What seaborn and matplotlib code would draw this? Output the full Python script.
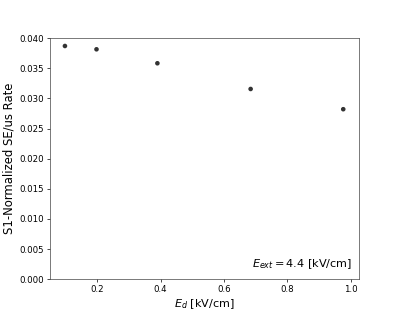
import matplotlib
matplotlib.use("Agg")
import matplotlib.pyplot as plt
import seaborn as sns
import pandas as pd

e_drift = [0.0985, 0.198, 0.39, 0.684, 0.976]
se_rate = [0.03872, 0.03817, 0.03585, 0.03158, 0.02822]

df = pd.DataFrame({"Ed": e_drift, "rate": se_rate})

sns.set_style("ticks")
plt.rcParams['font.family'] = ['DejaVu Sans']
plt.rcParams['text.color'] = 'black'
plt.rcParams['axes.labelcolor'] = 'black'
plt.rcParams['xtick.color'] = 'black'
plt.rcParams['ytick.color'] = 'black'

DPI = 399 / 6.4
fig, ax = plt.subplots(figsize=(6.4, 319 / DPI), dpi=DPI)
fig.subplots_adjust(left=0.125, right=0.9, top=0.88, bottom=0.125)

sns.scatterplot(data=df, x="Ed", y="rate", ax=ax, color="#333333", s=28, edgecolor="none")

ax.set_xlim(0.051, 1.026)
ax.set_ylim(0, 0.040)
ax.set_yticks([0.0, 0.005, 0.010, 0.015, 0.020, 0.025, 0.030, 0.035, 0.040])
ax.set_yticklabels(["0.000", "0.005", "0.010", "0.015", "0.020", "0.025", "0.030", "0.035", "0.040"])
ax.set_xticks([0.2, 0.4, 0.6, 0.8, 1.0])
ax.tick_params(labelsize=10)
ax.set_xlabel(r"$E_d$ [kV/cm]", fontsize=13)
ax.set_ylabel("S1-Normalized SE/us Rate", fontsize=13.5)
ax.text(0.977, 0.05, r"$E_{ext} = 4.4$ [kV/cm]", transform=ax.transAxes,
        ha="right", va="baseline", fontsize=13)
for s in ax.spines.values():
    s.set_visible(True)
    s.set_color("#444444")

fig.savefig("out.png", dpi=DPI)
